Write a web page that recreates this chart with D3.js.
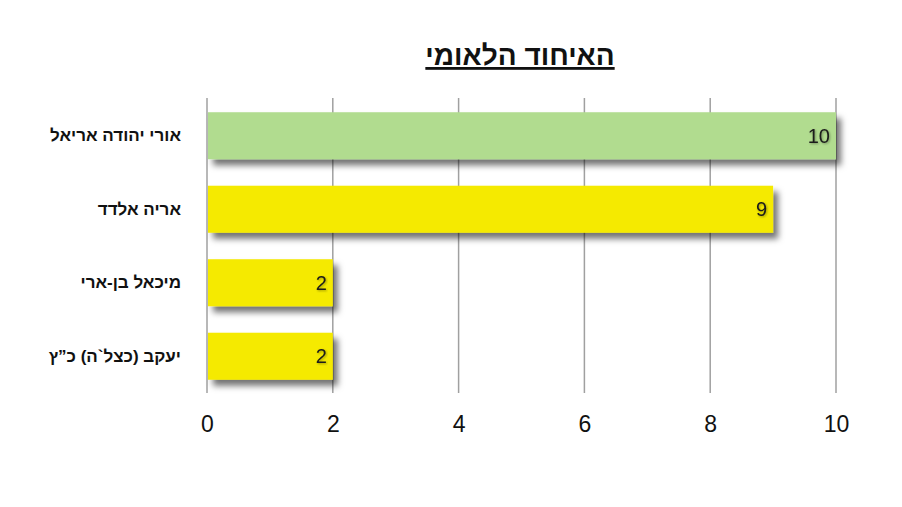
<!DOCTYPE html>
<html>
<head>
<meta charset="utf-8">
<script src="https://cdn.jsdelivr.net/npm/d3@7"></script>
<style>
  body { margin: 0; background: #fff; }
  svg { display: block; font-family: "Liberation Sans", Arial, sans-serif; }
</style>
</head>
<body>
<div class="graph_container"></div>
<script>
// data
const names = ["אורי יהודה אריאל", "אריה אלדד", "מיכאל בן-ארי", "יעקב (כצל`ה) כ”ץ"];
const seats = [10, 9, 2, 2];
const barColors = ["#b1dc8f", "#f5ea00", "#f5ea00", "#f5ea00"];
const xTicks = [0, 2, 4, 6, 8, 10];
const chartTitle = "האיחוד הלאומי";

const W = 902, H = 507;
const plotLeft = 207, plotRight = 836, plotTop = 99, plotBottom = 393;

const svg = d3.select(".graph_container").append("svg")
    .attr("width", W).attr("height", H);

// shadow filter
const defs = svg.append("defs");
const f = defs.append("filter").attr("id", "shadow")
    .attr("x", "-5%").attr("y", "-20%").attr("width", "115%").attr("height", "160%");
f.append("feDropShadow").attr("dx", 5).attr("dy", 6).attr("stdDeviation", 3)
    .attr("flood-color", "#000").attr("flood-opacity", 0.55);
const tf = defs.append("filter").attr("id", "tshadow");
tf.append("feDropShadow").attr("dx", 1).attr("dy", 1).attr("stdDeviation", 0.8)
    .attr("flood-color", "#000").attr("flood-opacity", 0.35);

const x = d3.scaleLinear().domain([0, 10]).range([plotLeft, plotRight]);
const y = d3.scaleBand().domain(names).range([plotTop, plotBottom]).paddingInner(0.36).paddingOuter(0.18);

// gridlines
svg.append("g").selectAll("line").data(xTicks).enter().append("line")
    .attr("x1", d => x(d)).attr("x2", d => x(d))
    .attr("y1", plotTop - 1).attr("y2", plotBottom)
    .attr("stroke", "#a0a0a0").attr("stroke-width", 1.5);

// x axis labels
const xAxis = d3.axisBottom(x).tickValues(xTicks).tickSize(0).tickPadding(0);
const gx = svg.append("g").attr("transform", "translate(0," + 416 + ")").call(xAxis);
gx.select(".domain").remove();
gx.selectAll("text").attr("font-size", 23).attr("fill", "#111")
    .attr("font-family", "\"Liberation Sans\", Arial, sans-serif");

// y axis labels
const yAxis = d3.axisLeft(y).tickSize(0).tickPadding(0);
const gy = svg.append("g").attr("transform", "translate(181,0)").call(yAxis);
gy.select(".domain").remove();
gy.selectAll("text").attr("font-size", 17).attr("font-weight", "bold").attr("fill", "#111")
    .attr("direction", "rtl").attr("text-anchor", "start")
    .attr("font-family", "\"Liberation Sans\", Arial, sans-serif");

// bars
const rows = names.map((n, i) => ({ name: n, v: seats[i], c: barColors[i] }));
svg.append("g").selectAll("rect").data(rows).enter().append("rect")
    .attr("x", x(0) + 1)
    .attr("y", d => y(d.name))
    .attr("width", d => x(d.v) - x(0) - 1)
    .attr("height", y.bandwidth())
    .attr("fill", d => d.c)
    .attr("filter", "url(#shadow)");

// value labels
svg.append("g").selectAll("text").data(rows).enter().append("text")
    .attr("x", d => x(d.v) - 6)
    .attr("y", d => y(d.name) + y.bandwidth() / 2)
    .attr("dy", "0.36em")
    .attr("text-anchor", "end")
    .attr("font-size", 20)
    .attr("fill", "#1a1a1a")
    .attr("filter", "url(#tshadow)")
    .text(d => d.v);

// title
svg.append("text")
    .attr("x", 520).attr("y", 65)
    .attr("text-anchor", "middle")
    .attr("direction", "rtl")
    .attr("font-size", 28).attr("font-weight", "bold")
    .attr("text-decoration", "underline")
    .attr("fill", "#111")
    .text(chartTitle);
</script>
</body>
</html>
